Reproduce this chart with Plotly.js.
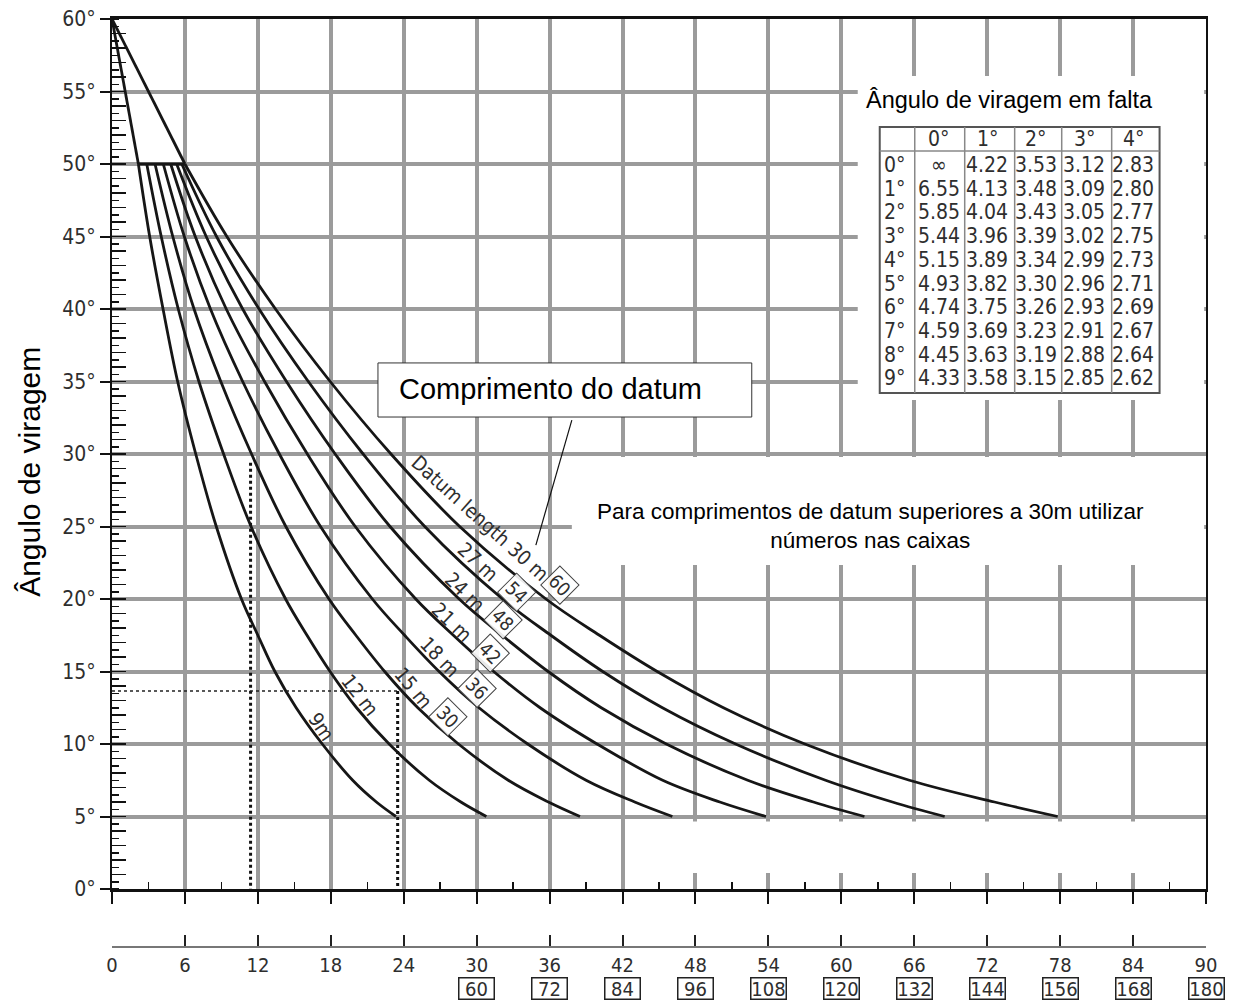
<!DOCTYPE html>
<html><head><meta charset="utf-8">
<script src="https://cdn.plot.ly/plotly-3.0.1.min.js"></script>
<style>html,body{margin:0;padding:0;background:#fff}</style>
</head><body><div id="chart" style="width:1235px;height:1005px"></div>
<script>
// ---------- data ----------
const angles = [50, 45, 40, 35, 30, 25, 20, 17.5, 15, 12.5, 10, 7.5, 6, 5];
const apexAngle = 60;
const datumLengths = [9, 12, 15, 18, 21, 24, 27, 30];
const curveLabels = ['9m', '12 m', '15 m', '18 m', '21 m', '24 m', '27 m', 'Datum length 30 m'];
const boxedLengths = [null, null, 30, 36, 42, 48, 54, 60];
const dist9  = [2.17, 3.1, 4.2, 5.4, 6.89, 8.58, 10.65, 12.0, 13.4, 15.15, 17.3, 19.8, 21.75, 23.36];
const dist12 = [2.86, 4.05, 5.45, 7.15, 9.18, 11.44, 14.28, 16.04, 17.94, 20.12, 22.8, 26.1, 28.7, 30.8];
const dist15 = [3.54, 5.0, 6.75, 8.95, 11.48, 14.3, 17.85, 20.06, 22.43, 25.16, 28.5, 32.6, 35.9, 38.5];
const dist18 = [4.22, 5.95, 8.1, 10.75, 13.77, 17.15, 21.42, 24.07, 26.91, 30.19, 34.2, 39.0, 43.0, 46.1];
const dist21 = [4.83, 6.85, 9.4, 12.55, 16.07, 20.01, 24.99, 28.08, 31.4, 35.22, 39.9, 45.3, 50.0, 53.8];
const dist24 = [5.32, 7.75, 10.75, 14.35, 18.36, 22.87, 28.56, 32.09, 35.88, 40.25, 45.6, 52.3, 57.7, 61.9];
const dist27 = [5.74, 8.6, 12.1, 16.15, 20.66, 25.73, 32.13, 36.1, 40.37, 45.28, 51.3, 58.7, 64.2, 68.5];
const dist30 = [6.0, 9.45, 13.45, 17.95, 22.95, 28.6, 35.7, 40.1, 44.85, 50.3, 57.0, 65.6, 72.6, 77.8];
const curves = [dist9, dist12, dist15, dist18, dist21, dist24, dist27, dist30];

const exampleDist = [11.4, 23.5];
const exampleAngle = [29.4, 13.66];

const xTicks = [0, 6, 12, 18, 24, 30, 36, 42, 48, 54, 60, 66, 72, 78, 84, 90];
const xBoxTicks = [30, 36, 42, 48, 54, 60, 66, 72, 78, 84, 90];
const xBoxLabels = ['60', '72', '84', '96', '108', '120', '132', '144', '156', '168', '180'];
const yTicks = [0, 5, 10, 15, 20, 25, 30, 35, 40, 45, 50, 55, 60];
const yTickText = ['0°', '5°', '10°', '15°', '20°', '25°', '30°', '35°', '40°', '45°', '50°', '55°', '60°'];

const yTitle = 'Ângulo de viragem';
const noteBoxText = 'Comprimento do datum';
const noteText = 'Para comprimentos de datum superiores a 30m utilizar<br>números nas caixas';

const tableTitle = 'Ângulo de viragem em falta';
const tableCols = ['0°', '1°', '2°', '3°', '4°'];
const tableRows = ['0°', '1°', '2°', '3°', '4°', '5°', '6°', '7°', '8°', '9°'];
const tcol0 = ['∞', '6.55', '5.85', '5.44', '5.15', '4.93', '4.74', '4.59', '4.45', '4.33'];
const tcol1 = ['4.22', '4.13', '4.04', '3.96', '3.89', '3.82', '3.75', '3.69', '3.63', '3.58'];
const tcol2 = ['3.53', '3.48', '3.43', '3.39', '3.34', '3.30', '3.26', '3.23', '3.19', '3.15'];
const tcol3 = ['3.12', '3.09', '3.05', '3.02', '2.99', '2.96', '2.93', '2.91', '2.88', '2.85'];
const tcol4 = ['2.83', '2.80', '2.77', '2.75', '2.73', '2.71', '2.69', '2.67', '2.64', '2.62'];
const tableValues = [tcol0, tcol1, tcol2, tcol3, tcol4];

// ---------- styling / layout ----------
const narrow = 'DejaVu Sans Condensed, Liberation Sans Narrow, Arial Narrow, Liberation Sans, Arial, sans-serif';
const regular = 'Liberation Sans, Arial, Helvetica, sans-serif';
const gridCol = '#9b9b9b';
const ink = '#161616';
const txt = '#2e2e2e';

const traces = [];
const lineStyle = {color: ink, width: 2.8};
traces.push({x: [0, dist9[0]], y: [apexAngle, angles[0]], mode: 'lines', line: lineStyle, hoverinfo: 'skip', showlegend: false});
traces.push({x: [0, dist30[0]], y: [apexAngle, angles[0]], mode: 'lines', line: lineStyle, hoverinfo: 'skip', showlegend: false});
traces.push({x: [dist9[0], dist30[0]], y: [angles[0], angles[0]], mode: 'lines', line: lineStyle, hoverinfo: 'skip', showlegend: false, yaxis: 'y2'});
curves.forEach((d, i) => traces.push({
  x: d, y: angles, mode: 'lines', name: datumLengths[i] + ' m',
  line: {color: ink, width: 2.8, shape: 'spline', smoothing: 1}, showlegend: false
}));
const dotV = {color: '#111', width: 3, dash: 'dot'};
const dotH = {color: '#222', width: 1.6, dash: 'dot'};
traces.push({x: [exampleDist[0], exampleDist[0]], y: [exampleAngle[0], 0], mode: 'lines', line: dotV, xaxis: 'x2', showlegend: false, hoverinfo: 'skip'});
traces.push({x: [0, exampleDist[1]], y: [exampleAngle[1], exampleAngle[1]], mode: 'lines', line: dotH, xaxis: 'x2', showlegend: false, hoverinfo: 'skip'});
traces.push({x: [exampleDist[1], exampleDist[1]], y: [exampleAngle[1], 0], mode: 'lines', line: dotV, xaxis: 'x2', showlegend: false, hoverinfo: 'skip'});

// curve labels (positions in data units along each curve)
const labelPlace = [[17.25, 11.19, 56], [20.39, 13.38, 52], [24.78, 13.84, 50], [26.97, 16.02, 46],
                    [27.94, 18.43, 44], [29.03, 20.5, 44], [30.12, 22.57, 43], [30.26, 25.57, 42]];
const boxPlace = [null, null, [27.66, 11.88], [29.99, 13.84], [31.09, 16.25], [32.18, 18.55], [33.28, 20.5], [36.84, 20.97]];

const annotations = [];
curveLabels.forEach((t, i) => {
  annotations.push({x: labelPlace[i][0], y: labelPlace[i][1], xref: 'x', yref: 'y', text: t, showarrow: false,
    textangle: labelPlace[i][2], font: {family: narrow, size: 20, color: txt}});
  if (boxedLengths[i] !== null) {
    annotations.push({x: boxPlace[i][0], y: boxPlace[i][1], xref: 'x', yref: 'y', text: String(boxedLengths[i]),
      showarrow: false, textangle: 45, font: {family: narrow, size: 19, color: txt},
      bordercolor: '#444', borderwidth: 1, borderpad: 2, bgcolor: 'rgba(255,255,255,0.9)'});
  }
});
// boxed doubled tick labels under the second axis
xBoxTicks.forEach((v, i) => annotations.push({
  x: v, xref: 'x', y: 0, yref: 'paper', yanchor: 'top', yshift: -30, text: xBoxLabels[i], showarrow: false,
  font: {family: narrow, size: 20, color: txt}, bordercolor: '#222', borderwidth: 1.5, borderpad: 0, width: 34, height: 20
}));
// y-axis title
annotations.push({xref: 'paper', x: 0, xanchor: 'center', xshift: -82, yref: 'paper', y: 0.512, yanchor: 'middle',
  text: yTitle, showarrow: false, textangle: -90, font: {family: regular, size: 30, color: '#000'}});
// notes
annotations.push({x: 36.1, y: 34.45, xref: 'x', yref: 'y', text: noteBoxText, showarrow: false,
  font: {family: regular, size: 29, color: '#000'}});
annotations.push({x: 62.4, y: 25.05, xref: 'x', yref: 'y', text: noteText, showarrow: false,
  font: {family: regular, size: 22.5, color: '#000'}, align: 'center'});
// table
annotations.push({x: 73.85, y: 54.41, xref: 'x', yref: 'y', text: tableTitle, showarrow: false,
  font: {family: regular, size: 23.5, color: '#000'}});
const colCenters = [68.0, 72.0, 76.0, 80.0, 84.0];
const rowLabelX = 64.4;
const headerY = 51.75;
const rowY0 = 49.93, rowStep = 1.635;
tableCols.forEach((c, j) => annotations.push({x: colCenters[j], y: headerY, xref: 'x', yref: 'y', text: c, showarrow: false,
  font: {family: narrow, size: 21, color: txt}}));
tableRows.forEach((r, i) => {
  const yy = rowY0 - i * rowStep;
  annotations.push({x: rowLabelX, y: yy, xref: 'x', yref: 'y', text: r, showarrow: false, font: {family: narrow, size: 21, color: txt}});
  tableValues.forEach((col, j) => annotations.push({x: colCenters[j], y: yy, xref: 'x', yref: 'y', text: col[i], showarrow: false,
    font: {family: narrow, size: 21, color: txt}}));
});

const shapes = [];
const white = {type: 'rect', xref: 'x', yref: 'y', fillcolor: '#fff', line: {width: 0}, layer: 'between'};
shapes.push(Object.assign({}, white, {x0: 61.35, x1: 89.85, y0: 33.72, y1: 56.07}));
shapes.push(Object.assign({}, white, {x0: 37.83, x1: 89.85, y0: 22.34, y1: 29.79}));
shapes.push(Object.assign({}, white, {x0: 44.3, x1: 89.85, y0: 1.1, y1: 4.65}));
shapes.push({type: 'rect', xref: 'x', yref: 'y', x0: 21.88, x1: 52.63, y0: 32.55, y1: 36.28, fillcolor: '#fff',
  line: {color: '#333', width: 1}, layer: 'between'});
shapes.push({type: 'line', xref: 'x', yref: 'y', x0: 37.83, y0: 32.34, x1: 34.87, y1: 23.72, line: {color: '#111', width: 1.2}, layer: 'above'});
// table frame
const tL = 63.16, tR = 86.18, tT = 52.55, tB = 34.2, tH = 50.9;
shapes.push({type: 'rect', xref: 'x', yref: 'y', x0: tL, x1: tR, y0: tB, y1: tT, line: {color: '#555', width: 2}, layer: 'above'});
shapes.push({type: 'line', xref: 'x', yref: 'y', x0: tL, x1: tR, y0: tH, y1: tH, line: {color: '#888', width: 1.5}, layer: 'above'});
[66.04, 70.15, 74.26, 78.13, 82.24].forEach(cx => shapes.push({type: 'line', xref: 'x', yref: 'y', x0: cx, x1: cx, y0: tB, y1: tT,
  line: {color: '#888', width: 1.5}, layer: 'above'}));

const layout = {
  width: 1235, height: 1005,
  margin: {l: 112, r: 29, t: 19, b: 58},
  paper_bgcolor: '#fff', plot_bgcolor: '#fff',
  showlegend: false,
  xaxis: {
    range: [0, 90], tickvals: xTicks, ticks: 'outside', ticklen: 12, tickwidth: 2, tickcolor: '#111',
    showticklabels: false, showgrid: true, gridcolor: gridCol, gridwidth: 4, zeroline: false,
    showline: true, linecolor: '#111', linewidth: 3, mirror: true, anchor: 'y',
    minor: {tickvals: [3, 9, 15, 21, 27, 33, 39, 45, 51, 57, 63, 69, 75, 81, 87], ticks: 'inside', ticklen: 7, tickwidth: 1.5, tickcolor: '#111', showgrid: false}
  },
  xaxis2: {
    range: [0, 90], overlaying: 'x', anchor: 'free', position: 0, side: 'bottom',
    tickvals: xTicks, ticks: 'inside', ticklen: 11, tickwidth: 2, tickcolor: '#222',
    showline: true, linecolor: '#777', linewidth: 2, showgrid: false, zeroline: false,
    tickfont: {family: narrow, size: 20, color: txt}
  },
  yaxis: {
    domain: [0.0625, 1], range: [0, 60], tickmode: 'array', tickvals: yTicks, ticktext: yTickText,
    ticks: 'outside', ticklen: 10, tickwidth: 2, tickcolor: '#111',
    showgrid: true, gridcolor: gridCol, gridwidth: 4, zeroline: false,
    showline: true, linecolor: '#111', linewidth: 2, mirror: true,
    tickfont: {family: narrow, size: 21, color: txt},
    minor: {dtick: 0.5, tick0: 0, ticks: 'inside', ticklen: 7, tickwidth: 1.5, tickcolor: '#111', showgrid: false}
  },
  yaxis2: {
    overlaying: 'y', side: 'left', anchor: 'x', range: [0, 60], tickmode: 'linear', tick0: 0, dtick: 1,
    ticks: 'inside', ticklen: 14, tickwidth: 1.5, tickcolor: '#111', showticklabels: false,
    showgrid: false, zeroline: false, showline: false
  },
  shapes: shapes,
  annotations: annotations
};

Plotly.newPlot('chart', traces, layout, {displayModeBar: false, staticPlot: true});
</script>
</body></html>
